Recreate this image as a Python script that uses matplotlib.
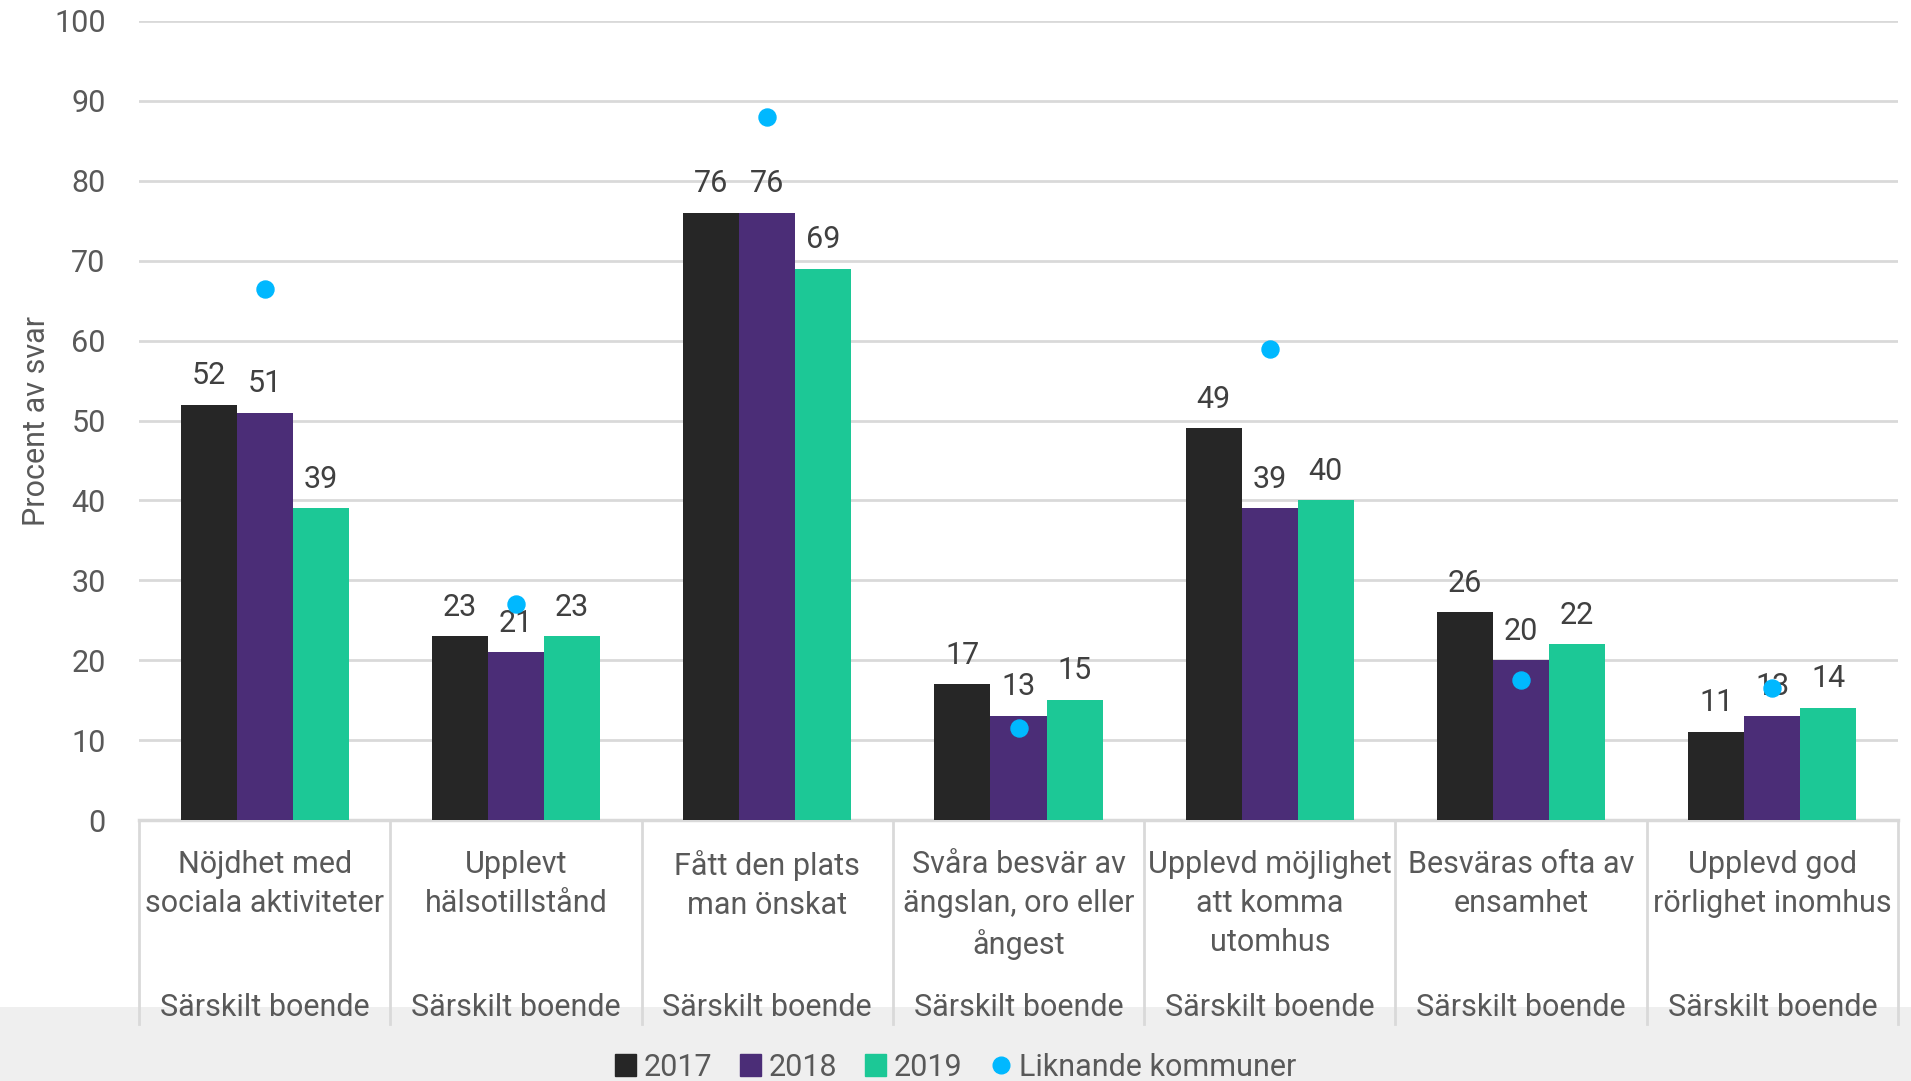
import numpy as np
import matplotlib.pyplot as plt
from matplotlib.patches import Rectangle
from matplotlib.lines import Line2D

plt.rcParams['font.family'] = ['Roboto', 'DejaVu Sans']

categories = ["Nöjdhet med\nsociala aktiviteter", "Upplevt\nhälsotillstånd", "Fått den plats\nman önskat",
              "Svåra besvär av\nängslan, oro eller\nångest", "Upplevd möjlighet\natt komma\nutomhus",
              "Besväras ofta av\nensamhet", "Upplevd god\nrörlighet inomhus"]
group_label = "Särskilt boende"
v2017 = [52, 23, 76, 17, 49, 26, 11]
v2018 = [51, 21, 76, 13, 39, 20, 13]
v2019 = [39, 23, 69, 15, 40, 22, 14]
liknande = [66.5, 27, 88, 11.5, 59, 17.5, 16.5]
series_names = ["2017", "2018", "2019"]
colors = ["#262626", "#4b2d77", "#1cc896"]
dot_color = "#00b8ff"
txt = "#595959"
fs = 22

fig = plt.figure(figsize=(19.11, 10.81), dpi=100)
fig.patches.append(Rectangle((0, 0), 1, 74 / 1081, transform=fig.transFigure,
                             facecolor="#efefef", edgecolor="none", zorder=-1))
ax = fig.add_axes([139 / 1911, 1 - 820 / 1081, 1759 / 1911, 799 / 1081])
ax.set_facecolor("none")
ax.set_zorder(2)

x = np.arange(len(categories))
w = 0.223
for k, vals in enumerate([v2017, v2018, v2019]):
    bars = ax.bar(x + (k - 1) * w, vals, w, color=colors[k], zorder=3, label=series_names[k])
    for b, v in zip(bars, vals):
        ax.annotate(str(v), (b.get_x() + b.get_width() / 2, v), xytext=(0, 21),
                    textcoords="offset points", ha="center", va="center",
                    fontsize=fs, color="#404040", zorder=4)
ax.scatter(x, liknande, s=150, color=dot_color, zorder=5, label="Liknande kommuner")

ax.set_xlim(-0.5, len(categories) - 0.5)
ax.set_ylim(0, 100)
ax.set_yticks(range(0, 101, 10))
ax.tick_params(axis="y", length=0, pad=24, labelsize=fs, labelcolor=txt)
ax.set_xticks([])
ax.grid(axis="y", color="#d9d9d9", linewidth=2, zorder=0)
for s in ["top", "right", "left"]:
    ax.spines[s].set_visible(False)
ax.spines["bottom"].set_color("#d9d9d9")
ax.spines["bottom"].set_linewidth(2.5)
ax.set_ylabel("Procent av svar", fontsize=fs, color=txt)
ax.yaxis.set_label_coords(-0.05, 0.5)

trans = ax.get_xaxis_transform()
for i in range(len(categories) + 1):
    ax.plot([i - 0.5, i - 0.5], [0, -0.255], transform=trans, color="#d9d9d9",
            linewidth=2, clip_on=False)
for i, c in enumerate(categories):
    ax.text(i, -0.037, c, transform=trans, ha="center", va="top", fontsize=fs,
            color=txt, linespacing=1.45)
    ax.text(i, -0.235, group_label, transform=trans, ha="center", va="center",
            fontsize=fs, color=txt)

handles = [Rectangle((0, 0), 1, 1, color=c) for c in colors]
handles.append(Line2D([], [], marker="o", linestyle="none", color=dot_color, markersize=12))
fig.legend(handles, series_names + ["Liknande kommuner"], loc="center", ncol=4,
           bbox_to_anchor=(0.5, 14 / 1081), frameon=False, fontsize=fs,
           handlelength=0.7, handleheight=0.7, handletextpad=0.25, columnspacing=0.9,
           labelcolor=txt)

fig.savefig("out.png", dpi=100)
